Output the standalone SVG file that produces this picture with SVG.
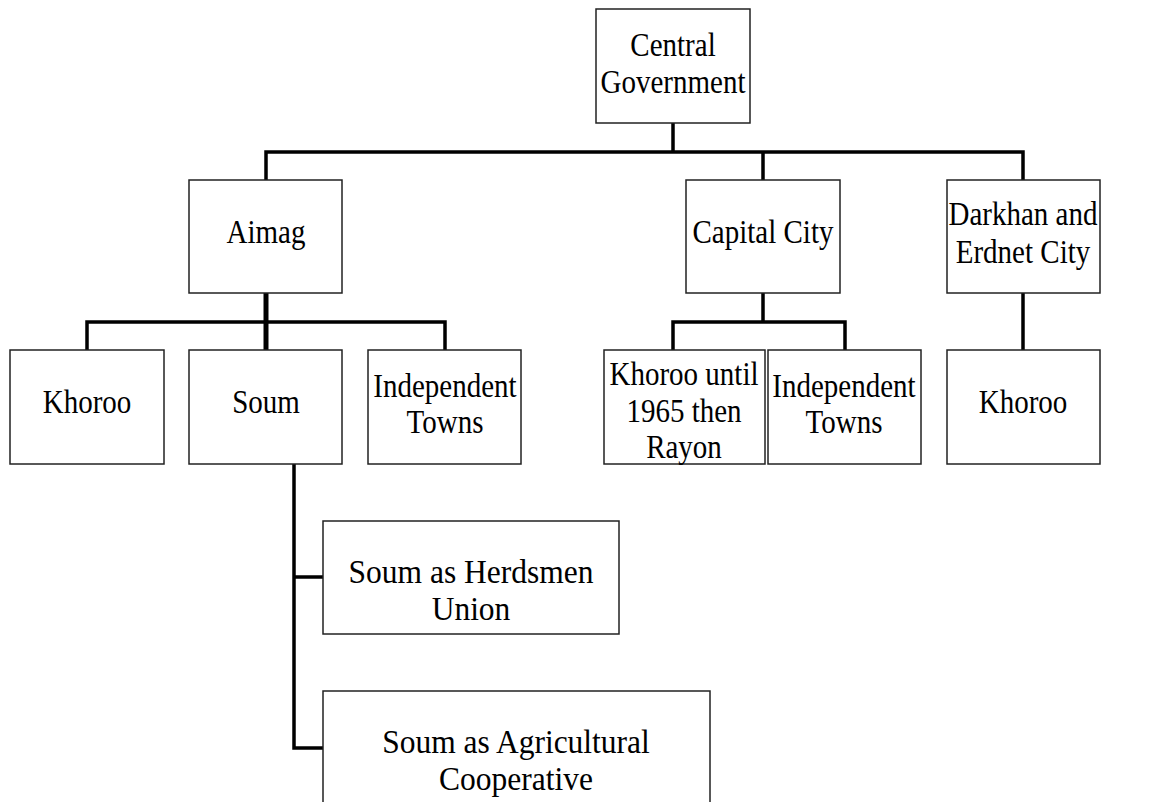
<svg xmlns="http://www.w3.org/2000/svg" width="1159" height="802" viewBox="0 0 1159 802">
<style>
.box{fill:#fff;stroke:#222;stroke-width:1.5}
.t{font-family:"Liberation Serif","Times New Roman",serif;font-size:29px;fill:#000;text-anchor:middle}
.t2{font-family:"Liberation Serif","Times New Roman",serif;font-size:31.5px;fill:#000;text-anchor:middle}
.c{fill:none;stroke:#000;stroke-width:3.5;stroke-linecap:square}
</style>
<rect width="1159" height="802" fill="#fff"/>
<g id="connectors">
<path class="c" d="M673 123V152M266 152H1023M266 152V180M763 152V180M1023 152V180"/>
<path class="c" d="M87 322H445M87 322V350M445 322V350"/>
<path class="c" style="stroke-width:5" d="M266 293V350"/>
<path class="c" d="M763 293V322M673 322H845M673 322V350M845 322V350"/>
<path class="c" d="M1023 293V350"/>
<path class="c" d="M294 464V748M294 577H323M294 748H323"/>
</g>
<g id="central"><rect class="box" x="596" y="9" width="154" height="114"/><text class="t" transform="translate(673,56) scale(1,1.15)"><tspan x="0" y="0">Central</tspan><tspan x="0" y="32">Government</tspan></text></g>
<g id="aimag"><rect class="box" x="189" y="180" width="153" height="113"/><text class="t" transform="translate(266,243) scale(1,1.15)">Aimag</text></g>
<g id="capital"><rect class="box" x="686" y="180" width="154" height="113"/><text class="t" transform="translate(763,243) scale(1,1.15)">Capital City</text></g>
<g id="darkhan"><rect class="box" x="947" y="180" width="153" height="113"/><text class="t" transform="translate(1023,225) scale(1,1.15)"><tspan x="0" y="0">Darkhan and</tspan><tspan x="0" y="33">Erdnet City</tspan></text></g>
<g id="khoroo1"><rect class="box" x="10" y="350" width="154" height="114"/><text class="t" transform="translate(87,413) scale(1,1.15)">Khoroo</text></g>
<g id="soum"><rect class="box" x="189" y="350" width="153" height="114"/><text class="t" transform="translate(266,413) scale(1,1.15)">Soum</text></g>
<g id="indep1"><rect class="box" x="368" y="350" width="153" height="114"/><text class="t" transform="translate(445,397) scale(1,1.15)"><tspan x="0" y="0">Independent</tspan><tspan x="0" y="31.5">Towns</tspan></text></g>
<g id="khoroo2"><rect class="box" x="604" y="350" width="161" height="114"/><text class="t" transform="translate(684,385) scale(1,1.15)"><tspan x="0" y="0">Khoroo until</tspan><tspan x="0" y="32">1965 then</tspan><tspan x="0" y="63.5">Rayon</tspan></text></g>
<g id="indep2"><rect class="box" x="768" y="350" width="153" height="114"/><text class="t" transform="translate(844,397) scale(1,1.15)"><tspan x="0" y="0">Independent</tspan><tspan x="0" y="31.5">Towns</tspan></text></g>
<g id="khoroo3"><rect class="box" x="947" y="350" width="153" height="114"/><text class="t" transform="translate(1023,413) scale(1,1.15)">Khoroo</text></g>
<g id="herdsmen"><rect class="box" x="323" y="521" width="296" height="113"/><text class="t2" transform="translate(471,583) scale(1,1.08)"><tspan x="0" y="0">Soum as Herdsmen</tspan><tspan x="0" y="34.5">Union</tspan></text></g>
<g id="agri"><rect class="box" x="323" y="691" width="387" height="130"/><text class="t2" transform="translate(516,753) scale(1,1.08)"><tspan x="0" y="0">Soum as Agricultural</tspan><tspan x="0" y="34.5">Cooperative</tspan></text></g>
</svg>
